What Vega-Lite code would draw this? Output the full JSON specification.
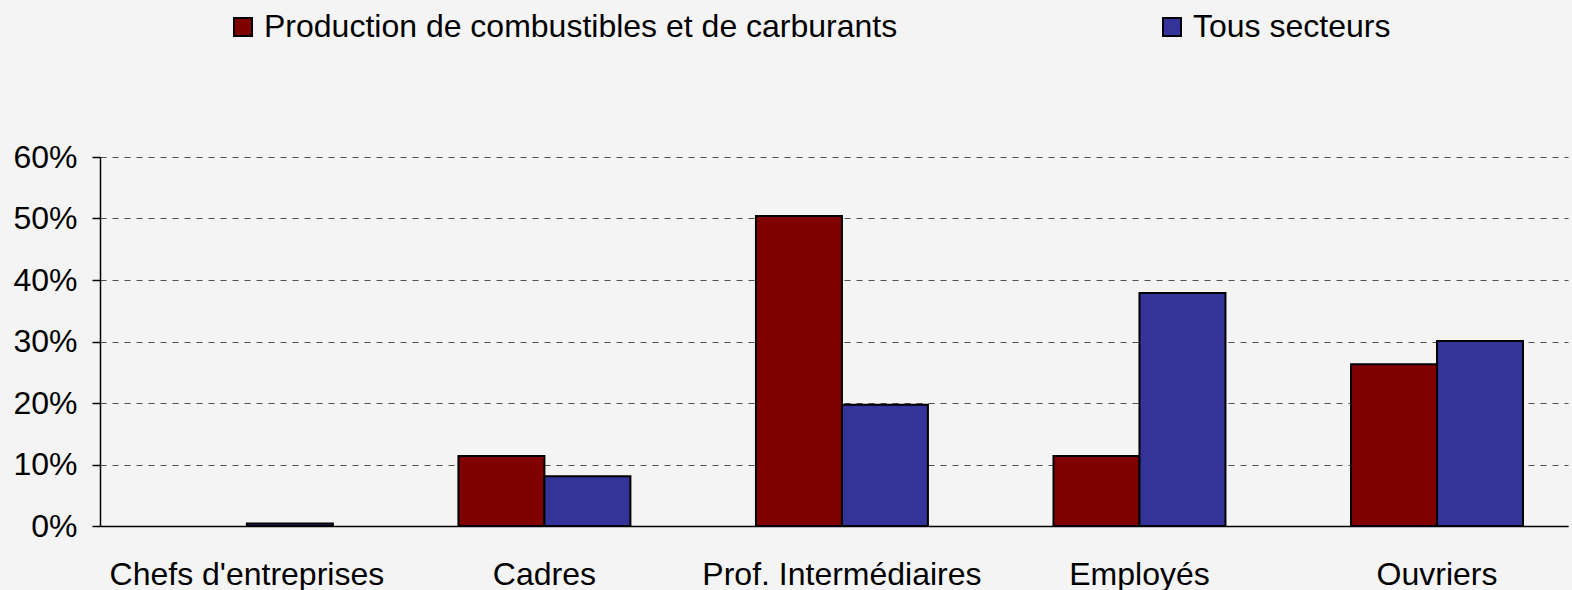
{
  "$schema": "https://vega.github.io/schema/vega-lite/v6.json",
  "autosize": "none",
  "width": 1468,
  "height": 369,
  "padding": {"left": 100, "top": 157, "right": 4, "bottom": 64},
  "background": "#f4f4f4",
  "config": {
    "font": "Liberation Sans",
    "view": {"stroke": null},
    "axis": {"labelFont": "Liberation Sans", "labelColor": "#000000", "labelFontSize": 32, "domainColor": "#000000", "domainWidth": 1.5, "title": null, "labelLimit": 1000},
    "legend": {"labelFont": "Liberation Sans", "labelColor": "#000000", "labelFontSize": 32}
  },
  "data": {
    "values": [
      {"categorie": "Chefs d'entreprises", "serie": "Production de combustibles et de carburants", "part": null},
      {"categorie": "Chefs d'entreprises", "serie": "Tous secteurs", "part": 0.004},
      {"categorie": "Cadres", "serie": "Production de combustibles et de carburants", "part": 0.114},
      {"categorie": "Cadres", "serie": "Tous secteurs", "part": 0.081},
      {"categorie": "Prof. Intermédiaires", "serie": "Production de combustibles et de carburants", "part": 0.504},
      {"categorie": "Prof. Intermédiaires", "serie": "Tous secteurs", "part": 0.197},
      {"categorie": "Employés", "serie": "Production de combustibles et de carburants", "part": 0.114},
      {"categorie": "Employés", "serie": "Tous secteurs", "part": 0.379},
      {"categorie": "Ouvriers", "serie": "Production de combustibles et de carburants", "part": 0.263},
      {"categorie": "Ouvriers", "serie": "Tous secteurs", "part": 0.301}
    ]
  },
  "mark": {"type": "bar", "stroke": "#000000", "strokeWidth": 2},
  "encoding": {
    "x": {
      "field": "categorie",
      "type": "nominal",
      "sort": ["Chefs d'entreprises", "Cadres", "Prof. Intermédiaires", "Employés", "Ouvriers"],
      "scale": {"paddingInner": 0.422, "paddingOuter": 0.178, "align": 0.575},
      "axis": {"labelAngle": 0, "ticks": false, "tickSize": 0, "labelPadding": 33, "grid": false, "labelLimit": 1000}
    },
    "xOffset": {
      "field": "serie",
      "type": "nominal",
      "sort": ["Production de combustibles et de carburants", "Tous secteurs"],
      "scale": {"paddingInner": 0, "paddingOuter": 0}
    },
    "y": {
      "field": "part",
      "type": "quantitative",
      "scale": {"domain": [0, 0.6], "nice": false},
      "axis": {
        "format": ".0%",
        "values": [0, 0.1, 0.2, 0.3, 0.4, 0.5, 0.6],
        "tickSize": 8,
        "tickColor": "#000000",
        "tickWidth": 1.5,
        "labelPadding": 15,
        "grid": true,
        "gridColor": "#505050",
        "gridDash": [6, 6],
        "gridWidth": 1
      }
    },
    "color": {
      "field": "serie",
      "type": "nominal",
      "sort": ["Production de combustibles et de carburants", "Tous secteurs"],
      "scale": {"range": ["#800000", "#333399"]},
      "legend": {
        "title": null,
        "orient": "none",
        "legendX": 127,
        "legendY": -146,
        "direction": "horizontal",
        "columns": 2,
        "columnPadding": 258,
        "symbolType": "square",
        "symbolSize": 324,
        "symbolStrokeColor": "#000000",
        "symbolStrokeWidth": 2,
        "labelOffset": 5,
        "labelLimit": 1000
      }
    }
  }
}
